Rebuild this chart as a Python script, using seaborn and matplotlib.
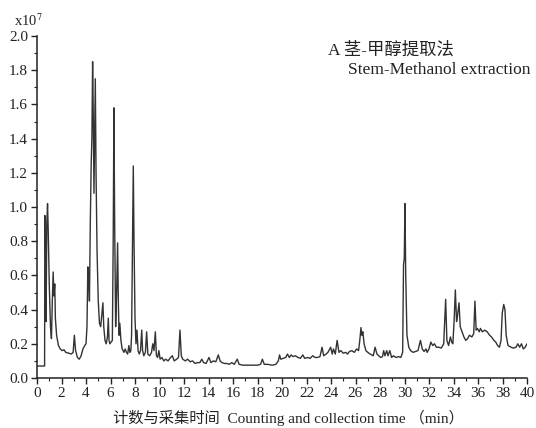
import matplotlib
matplotlib.use("Agg")
import matplotlib.pyplot as plt
import seaborn as sns
import pandas as pd
from matplotlib.ticker import MultipleLocator, FormatStrFormatter

# Retention time (min)
time_min = [
    0.0, 0.62, 0.64, 0.70, 0.74, 0.80, 0.86, 0.92, 1.00, 1.10, 1.18, 1.25, 1.32, 1.38, 1.45, 1.50,
    1.60, 1.75, 1.90, 2.05, 2.2, 2.35, 2.6, 2.8, 2.95, 3.05, 3.15, 3.3, 3.45, 3.6, 3.75, 3.9,
    4.0, 4.08, 4.15, 4.22, 4.28, 4.35, 4.42, 4.48, 4.54, 4.60, 4.65, 4.70, 4.76, 4.82, 4.90, 5.00,
    5.10, 5.20, 5.30, 5.38, 5.45, 5.55, 5.65, 5.75, 5.82, 5.88, 5.95, 6.05, 6.15, 6.22, 6.28, 6.34,
    6.42, 6.50, 6.58, 6.64, 6.70, 6.76, 6.85, 6.95, 7.1, 7.2, 7.3, 7.4, 7.5, 7.58, 7.66, 7.72,
    7.80, 7.86, 7.92, 8.00, 8.08, 8.16, 8.25, 8.35, 8.45, 8.55, 8.62, 8.72, 8.85, 8.95, 9.05, 9.2,
    9.35, 9.45, 9.55, 9.66, 9.75, 9.85, 9.95, 10.05, 10.2, 10.35, 10.5, 10.7, 10.9, 11.05, 11.2, 11.4,
    11.55, 11.67, 11.78, 11.9, 12.1, 12.3, 12.5, 12.7, 12.9, 13.1, 13.3, 13.45, 13.6, 13.8, 14.04, 14.2,
    14.4, 14.6, 14.8, 14.95, 15.1, 15.3, 15.5, 15.7, 15.9, 16.1, 16.35, 16.5, 16.8, 17.2, 17.6, 18.0,
    18.25, 18.4, 18.55, 18.8, 19.2, 19.5, 19.7, 19.8, 19.9, 20.1, 20.3, 20.45, 20.6, 20.75, 20.9, 21.1,
    21.3, 21.5, 21.7, 21.85, 22.1, 22.3, 22.5, 22.7, 22.9, 23.1, 23.27, 23.4, 23.6, 23.75, 23.97, 24.1,
    24.2, 24.35, 24.5, 24.65, 24.8, 25.0, 25.2, 25.35, 25.5, 25.7, 25.9, 26.1, 26.25, 26.35, 26.45, 26.52,
    26.6, 26.7, 26.85, 27.0, 27.2, 27.45, 27.6, 27.75, 27.9, 28.05, 28.2, 28.3, 28.4, 28.55, 28.65, 28.8,
    28.95, 29.1, 29.3, 29.5, 29.7, 29.85, 29.92, 29.98, 30.04, 30.1, 30.2, 30.35, 30.5, 30.7, 30.9, 31.1,
    31.3, 31.45, 31.6, 31.75, 31.85, 32.0, 32.15, 32.3, 32.45, 32.6, 32.8, 33.0, 33.2, 33.36, 33.46, 33.6,
    33.75, 33.85, 33.95, 34.06, 34.15, 34.25, 34.32, 34.45, 34.55, 34.7, 34.85, 35.0, 35.15, 35.3, 35.5, 35.65,
    35.75, 35.85, 35.95, 36.1, 36.2, 36.35, 36.55, 36.75, 36.95, 37.1, 37.3, 37.45, 37.6, 37.75, 37.88, 37.98,
    38.1, 38.2, 38.3, 38.45, 38.7, 38.9, 39.1, 39.25, 39.4, 39.55, 39.7, 39.85, 40.0,
]

# Counts (x10^7)
counts_e7 = [
    0.07, 0.07, 0.95, 0.80, 0.33, 0.90, 1.02, 0.85, 0.55, 0.30, 0.23, 0.45, 0.62, 0.48, 0.55, 0.35,
    0.25, 0.19, 0.17, 0.16, 0.165, 0.15, 0.145, 0.14, 0.15, 0.25, 0.16, 0.12, 0.11, 0.13, 0.17, 0.19,
    0.20, 0.30, 0.65, 0.60, 0.45, 0.90, 1.24, 1.40, 1.85, 1.50, 1.08, 1.40, 1.75, 1.20, 0.75, 0.45,
    0.32, 0.30, 0.38, 0.44, 0.30, 0.22, 0.20, 0.24, 0.35, 0.22, 0.20, 0.21, 0.22, 0.80, 1.58, 0.90,
    0.30, 0.50, 0.79, 0.45, 0.25, 0.32, 0.22, 0.17, 0.15, 0.17, 0.15, 0.14, 0.19, 0.15, 0.16, 0.25,
    0.80, 1.24, 0.80, 0.35, 0.20, 0.28, 0.16, 0.14, 0.16, 0.28, 0.16, 0.13, 0.15, 0.27, 0.14, 0.13,
    0.15, 0.20, 0.16, 0.27, 0.13, 0.12, 0.16, 0.11, 0.12, 0.10, 0.11, 0.10, 0.12, 0.13, 0.10, 0.11,
    0.12, 0.28, 0.13, 0.11, 0.10, 0.11, 0.095, 0.10, 0.085, 0.09, 0.09, 0.11, 0.09, 0.085, 0.12, 0.09,
    0.10, 0.095, 0.135, 0.10, 0.09, 0.085, 0.085, 0.08, 0.09, 0.08, 0.11, 0.08, 0.075, 0.075, 0.075, 0.075,
    0.08, 0.11, 0.08, 0.08, 0.075, 0.08, 0.10, 0.135, 0.11, 0.115, 0.12, 0.14, 0.12, 0.135, 0.125, 0.13,
    0.12, 0.115, 0.135, 0.115, 0.12, 0.115, 0.13, 0.12, 0.12, 0.125, 0.18, 0.13, 0.14, 0.15, 0.18, 0.14,
    0.17, 0.14, 0.22, 0.15, 0.16, 0.145, 0.15, 0.14, 0.155, 0.16, 0.15, 0.17, 0.16, 0.22, 0.295, 0.25,
    0.27, 0.20, 0.16, 0.15, 0.14, 0.13, 0.18, 0.14, 0.13, 0.12, 0.125, 0.16, 0.13, 0.16, 0.13, 0.16,
    0.12, 0.13, 0.12, 0.125, 0.12, 0.15, 0.66, 0.70, 1.02, 0.60, 0.25, 0.18, 0.16, 0.15, 0.155, 0.16,
    0.22, 0.17, 0.155, 0.17, 0.15, 0.17, 0.21, 0.19, 0.20, 0.18, 0.18, 0.175, 0.20, 0.46, 0.22, 0.19,
    0.24, 0.21, 0.20, 0.35, 0.515, 0.33, 0.36, 0.44, 0.30, 0.27, 0.24, 0.22, 0.23, 0.25, 0.24, 0.26,
    0.45, 0.28, 0.29, 0.27, 0.29, 0.27, 0.28, 0.27, 0.25, 0.24, 0.22, 0.21, 0.19, 0.18, 0.22, 0.38,
    0.43, 0.40, 0.25, 0.19, 0.18, 0.175, 0.18, 0.20, 0.18, 0.20, 0.17, 0.18, 0.20,
]

x_ticks = list(range(0, 41, 2))
y_ticks = [0.0, 0.2, 0.4, 0.6, 0.8, 1.0, 1.2, 1.4, 1.6, 1.8, 2.0]

title_cn = "A 茎-甲醇提取法"
title_en = "Stem-Methanol extraction"
x_label = "计数与采集时间  Counting and collection time （min）"
y_scale_label = "x10$^{7}$"

sns.set_style("ticks")
FAM = ["Liberation Serif", "Noto Sans CJK SC", "DejaVu Sans"]
plt.rcParams["font.family"] = FAM
plt.rcParams["mathtext.fontset"] = "stix"

df = pd.DataFrame({"t": time_min, "v": counts_e7})

fig = plt.figure(figsize=(5.36, 4.28), dpi=100)
ax = fig.add_axes([37 / 536, 50 / 428, 490 / 536, 342 / 428])
sns.lineplot(data=df, x="t", y="v", ax=ax, estimator=None, sort=False,
             color="#333333", linewidth=1.0)

ax.set_xlim(0, 40)
ax.set_ylim(0, 2.0)
ax.set_xticks(x_ticks)
ax.set_yticks(y_ticks)
ax.xaxis.set_minor_locator(MultipleLocator(1))
ax.yaxis.set_minor_locator(MultipleLocator(0.1))
ax.yaxis.set_major_formatter(FormatStrFormatter("%.1f"))
ax.tick_params(which="major", direction="out", length=4.5, width=1, labelsize=11,
               colors="#222222", pad=2)
ax.tick_params(which="minor", direction="out", length=2.5, width=0.8, colors="#222222")
for s in ["top", "right"]:
    ax.spines[s].set_visible(False)
for s in ["left", "bottom"]:
    ax.spines[s].set_linewidth(1.1)
    ax.spines[s].set_color("#222222")
ax.set_xlabel("")
ax.set_ylabel("")

fig.text(328 / 536, 1 - 55 / 428, title_cn, fontsize=12.5, ha="left", va="baseline",
         family=FAM, color="#222222")
fig.text(348 / 536, 1 - 74.5 / 428, title_en, fontsize=12.5, ha="left", va="baseline",
         family=FAM, color="#222222")
fig.text(14 / 536, 1 - 26 / 428, y_scale_label, fontsize=10.5, ha="left", va="baseline",
         family=FAM, color="#222222")
fig.text(288 / 536, 1 - 418 / 428, x_label, fontsize=11, ha="center", va="center",
         family=FAM, color="#222222")

fig.savefig("out.png", dpi=100)
